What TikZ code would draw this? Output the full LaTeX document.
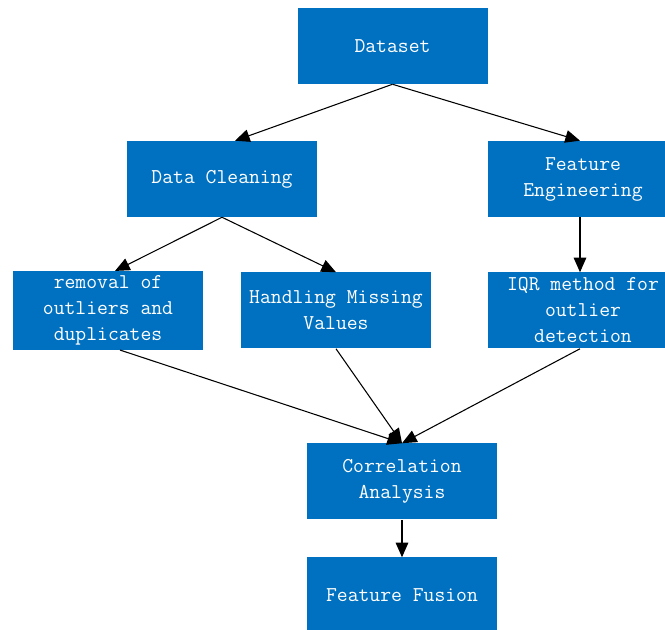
\documentclass[tikz,border=0pt]{standalone}
\usepackage{fontspec}
\usetikzlibrary{arrows.meta}
\definecolor{boxblue}{HTML}{0070C0}

\begin{document}
\begin{tikzpicture}[x=0.75pt, y=-0.75pt,
        block/.style={rectangle, fill=boxblue, draw=none, text=white,
            minimum width=142.5pt, minimum height=57pt, align=center,
            font=\ttfamily\fontsize{15.8}{19.5}\selectfont},
        flow/.style={black, line width=0.8pt, -{Triangle[length=11pt, width=9.5pt]}}]
        \useasboundingbox (0,0) rectangle (665,630);

        \node[block] (ds) at (392.5,46) {Dataset};
        \node[block] (dc) at (222,179) {Data Cleaning};
        \node[block] (fe) at (583,179) {Feature\\Engineering};
        \node[block] (ro) at (108,310.5) {removal of\\outliers and\\duplicates};
        \node[block] (hm) at (336,310.5) {Handling Missing\\Values};
        \node[block] (iq) at (583,310.5) {IQR method for\\outlier\\detection};
        \node[block] (ca) at (402,481.5) {Correlation\\Analysis};
        \node[block] (ff) at (402,595.5) {Feature Fusion};

        \draw[flow] (ds.south) -- ([xshift=9.75pt]dc.north);
        \draw[flow] (ds.south) -- ([xshift=-2.25pt]fe.north);
        \draw[flow] (dc.south) -- ([xshift=5.25pt]ro.north);
        \draw[flow] (dc.south) -- (hm.north);
        \draw[flow] (fe.south -| 580,0) -- (iq.north -| 580,0);
        \draw[flow] ([xshift=9pt]ro.south) -- (ca.north);
        \draw[flow] (hm.south) -- (ca.north);
        \draw[flow] ([xshift=-2.25pt]iq.south) -- (ca.north);
        \draw[flow] (ca.south) -- (ff.north);
    \end{tikzpicture}
\end{document}
